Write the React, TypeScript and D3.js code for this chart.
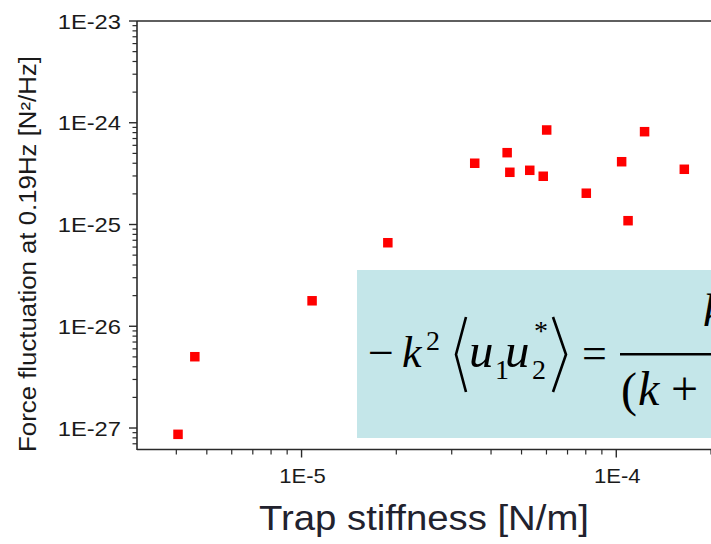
import React from "react";
import * as d3 from "d3";

const stiffness = [4.05e-6, 4.58e-6, 1.08e-5, 1.88e-5, 3.55e-5, 4.5e-5, 4.59e-5, 5.31e-5, 5.86e-5, 6.01e-5, 8.03e-5, 1.04e-4, 1.09e-4, 1.23e-4, 1.645e-4];
const forceFluct = [8.67e-28, 5.02e-27, 1.78e-26, 6.62e-26, 4.0e-25, 5.08e-25, 3.26e-25, 3.41e-25, 2.98e-25, 8.49e-25, 2.03e-25, 4.14e-25, 1.09e-25, 8.17e-25, 3.49e-25];

const xTickValues = [1e-5, 1e-4];
const xTickLabels = ["1E-5", "1E-4"];
const yTickValues = [1e-23, 1e-24, 1e-25, 1e-26, 1e-27];
const yTickLabels = ["1E-23", "1E-24", "1E-25", "1E-26", "1E-27"];

const xTitle = "Trap stiffness [N/m]";
const yTitle = "Force fluctuation at 0.19Hz [N\u00B2/Hz]";

const W = 711;
const H = 544;

export default function App() {
  const x = d3.scaleLog().domain([3e-6, 1e-3]).range([137, 931]);
  const y = d3.scaleLog().domain([6.15e-28, 1e-23]).range([449.5, 21]);

  const xMinor: number[] = [];
  for (let d = -6; d <= -4; d++) for (let m = 2; m <= 9; m++) {
    const v = m * Math.pow(10, d);
    if (v > 3.05e-6 && v < 1e-3) xMinor.push(v);
  }
  const yMinor: number[] = [];
  for (let d = -28; d <= -24; d++) for (let m = 2; m <= 9; m++) {
    const v = m * Math.pow(10, d);
    if (v > 6.2e-28 && v < 1e-23) yMinor.push(v);
  }

  const axisColor = "#2a2a2a";
  const x0 = x.range()[0];
  const yBottom = y.range()[0];
  const yTop = y.range()[1];
  const sq = 9.5;

  return (
    <div style={{ position: "absolute", left: 0, top: 0 }}>
      <svg width={W} height={H} style={{ display: "block", background: "#fff" }}>
        <rect x={357} y={270} width={400} height={168} fill="#c4e6e9" />

        {/* axes */}
        <line x1={x0} x2={x0} y1={yTop} y2={yBottom + 0.5} stroke={axisColor} strokeWidth={1.6} />
        <line x1={x0} x2={W + 10} y1={yBottom} y2={yBottom} stroke={axisColor} strokeWidth={1.6} />
        <line x1={x0} x2={W + 10} y1={yTop} y2={yTop} stroke={axisColor} strokeWidth={1.6} />

        {yTickValues.map((v) => (
          <line key={"ym" + v} x1={x0 - 8} x2={x0} y1={y(v)} y2={y(v)} stroke={axisColor} strokeWidth={1.4} />
        ))}
        {yMinor.map((v) => (
          <line key={"yn" + v} x1={x0 - 4.5} x2={x0} y1={y(v)} y2={y(v)} stroke={axisColor} strokeWidth={1.2} />
        ))}
        {xTickValues.map((v) => (
          <line key={"xm" + v} x1={x(v)} x2={x(v)} y1={yBottom} y2={yBottom + 8} stroke={axisColor} strokeWidth={1.4} />
        ))}
        {xMinor.map((v) => (
          <line key={"xn" + v} x1={x(v)} x2={x(v)} y1={yBottom} y2={yBottom + 5} stroke={axisColor} strokeWidth={1.2} />
        ))}

        {yTickValues.map((v, i) => (
          <g key={"yl" + v} transform={`translate(121,${y(v) + 7.5}) scale(1.13,1)`}>
            <text textAnchor="end" fontFamily="Liberation Sans, Arial, sans-serif" fontSize={21} fill="#1a1a1a">
              {yTickLabels[i]}
            </text>
          </g>
        ))}
        {xTickValues.map((v, i) => (
          <g key={"xl" + v} transform={`translate(${x(v) + 1},${yBottom + 33}) scale(1.05,1)`}>
            <text textAnchor="middle" fontFamily="Liberation Sans, Arial, sans-serif" fontSize={21} fill="#1a1a1a">
              {xTickLabels[i]}
            </text>
          </g>
        ))}

        {/* axis titles */}
        <text x={424} y={530} textAnchor="middle" fontFamily="Liberation Sans, Arial, sans-serif" fontSize={35}
          fill="#22222e" textLength={330} lengthAdjust="spacingAndGlyphs">
          {xTitle}
        </text>
        <text transform="translate(36,254) rotate(-90)" textAnchor="middle" fontFamily="Liberation Sans, Arial, sans-serif"
          fontSize={23} fill="#1a1a1a" textLength={396} lengthAdjust="spacingAndGlyphs">
          {yTitle}
        </text>

        {/* points */}
        {stiffness.map((k, i) => (
          <rect key={"p" + i} x={x(k) - sq / 2} y={y(forceFluct[i]) - sq / 2} width={sq} height={sq} fill="#ff0000" />
        ))}

        {/* formula */}
        <g fontFamily="Liberation Serif, Times New Roman, serif" fill="#000">
          <text x={368} y={368} fontSize={46}>{"\u2212"}</text>
          <text x={402} y={367} fontSize={44} fontStyle="italic">k</text>
          <text x={426} y={350} fontSize={28}>2</text>
          <path d="M466,317 L456,354.5 L466,392" fill="none" stroke="#000" strokeWidth={2.6} />
          <text x={469} y={367} fontSize={49} fontStyle="italic">u</text>
          <text x={495} y={379} fontSize={28}>1</text>
          <text x={505} y={367} fontSize={49} fontStyle="italic">u</text>
          <text x={534} y={340} fontSize={28}>*</text>
          <text x={532} y={379} fontSize={28}>2</text>
          <path d="M553,317 L566,354.5 L553,392" fill="none" stroke="#000" strokeWidth={2.6} />
          <text x={582} y={368} fontSize={44}>=</text>
          <line x1={620} x2={W + 10} y1={354.3} y2={354.3} stroke="#000" strokeWidth={2.4} />
          <text x={703} y={326} fontSize={46} fontStyle="italic">k</text>
          <text x={621} y={406} fontSize={48}>(</text>
          <text x={638} y={405} fontSize={48} fontStyle="italic">k</text>
          <text x={671} y={405} fontSize={48}>+</text>
        </g>
      </svg>
    </div>
  );
}
